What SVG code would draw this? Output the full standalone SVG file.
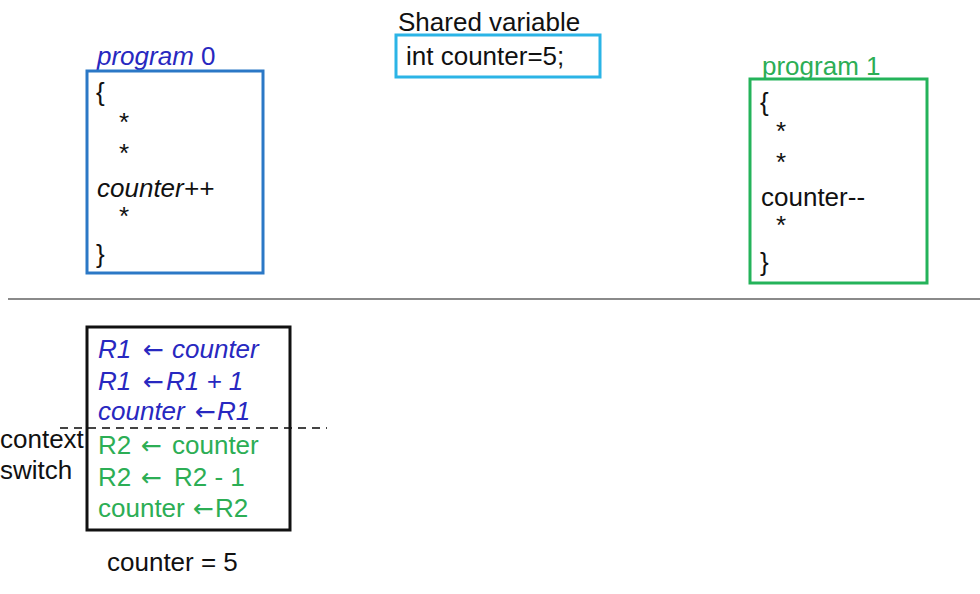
<svg xmlns="http://www.w3.org/2000/svg" width="980" height="594" viewBox="0 0 980 594">
<style>
text{font-family:"Liberation Sans",Arial,sans-serif;font-size:26px;fill:#111}
.blue{fill:#2828c0}
.green{fill:#2cae55}
.it{font-style:italic}
.ar{font-family:"DejaVu Sans",sans-serif;font-size:25px;font-style:normal}
</style>
<rect width="980" height="594" fill="#fff"/>
<g id="program0">
<text x="97" y="65" class="blue"><tspan class="it">program</tspan> 0</text>
<rect x="87" y="71" width="176" height="202" fill="none" stroke="#2b78c6" stroke-width="3"/>
<text x="96" y="101">{</text>
<text x="119" y="131">*</text>
<text x="119" y="162">*</text>
<text x="97" y="197" class="it">counter++</text>
<text x="119" y="225">*</text>
<text x="96" y="263">}</text>
</g>
<g id="shared">
<text x="398" y="31">Shared variable</text>
<rect x="396" y="35" width="204" height="42" fill="none" stroke="#2bb4e6" stroke-width="3"/>
<text x="406" y="65">int counter=5;</text>
</g>
<g id="program1">
<text x="762" y="75" class="green">program 1</text>
<rect x="750" y="79" width="177" height="204" fill="none" stroke="#24b35a" stroke-width="3"/>
<text x="760" y="111">{</text>
<text x="776" y="140">*</text>
<text x="776" y="171">*</text>
<text x="761" y="206">counter--</text>
<text x="776" y="234">*</text>
<text x="760" y="271">}</text>
</g>
<g id="connectors">
<line x1="8" y1="299" x2="980" y2="299" stroke="#8a8a8a" stroke-width="2"/>
<line x1="60" y1="428" x2="327" y2="428" stroke="#444" stroke-width="2" stroke-dasharray="8,6"/>
</g>
<g id="execution">
<rect x="87" y="327" width="203" height="203" fill="none" stroke="#111" stroke-width="3"/>
<text y="358" class="blue it"><tspan x="98">R1</tspan><tspan x="143" class="ar">←</tspan><tspan x="172">counter</tspan></text>
<text y="390" class="blue it"><tspan x="98">R1</tspan><tspan x="143" class="ar">←</tspan><tspan x="166">R1 + 1</tspan></text>
<text y="420" class="blue it"><tspan x="98">counter</tspan><tspan x="195" class="ar">←</tspan><tspan x="217">R1</tspan></text>
<text y="454" class="green"><tspan x="98">R2</tspan><tspan x="141" class="ar">←</tspan><tspan x="172">counter</tspan></text>
<text y="486" class="green"><tspan x="98">R2</tspan><tspan x="141" class="ar">←</tspan><tspan x="174">R2 - 1</tspan></text>
<text y="517" class="green"><tspan x="98">counter</tspan><tspan x="193" class="ar">←</tspan><tspan x="215">R2</tspan></text>
</g>
<g id="context-switch">
<text x="0" y="448">context</text>
<text x="0" y="479">switch</text>
</g>
<g id="result">
<text x="107" y="571">counter = 5</text>
</g>
</svg>
